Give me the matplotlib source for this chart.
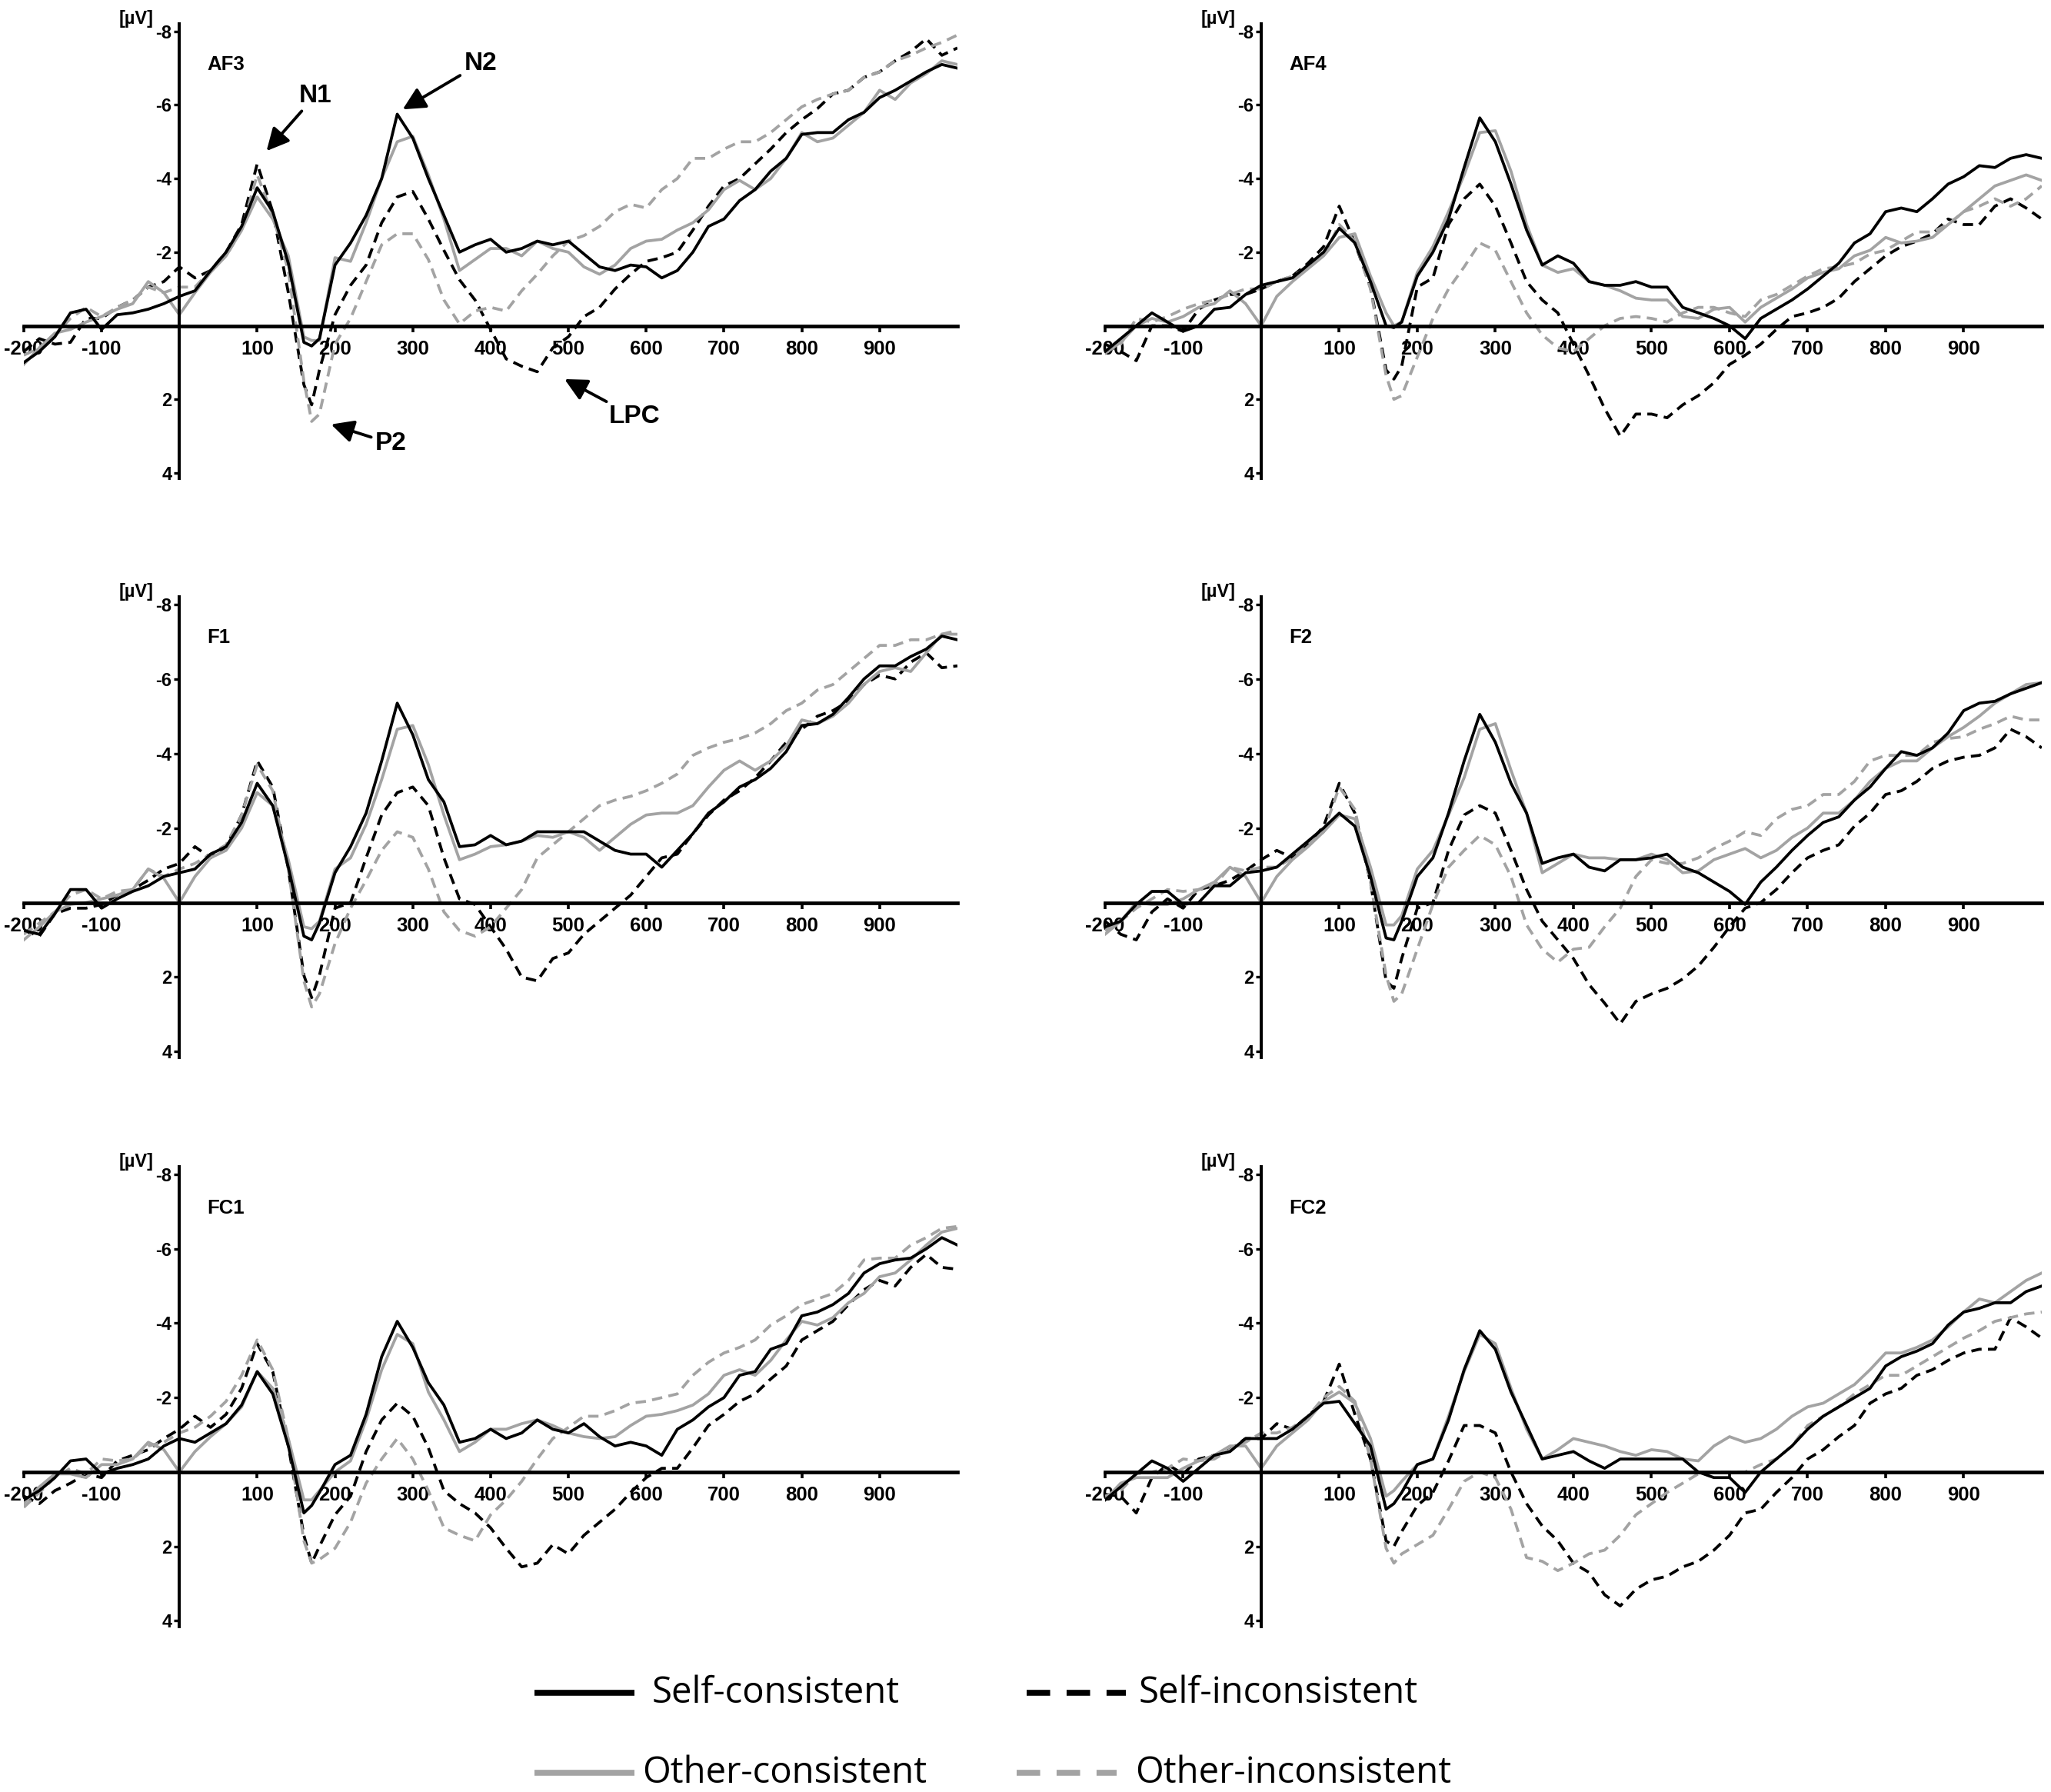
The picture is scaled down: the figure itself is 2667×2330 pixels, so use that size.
import matplotlib.pyplot as plt
from matplotlib.lines import Line2D

plt.rcParams['font.family'] = ['Liberation Sans', 'DejaVu Sans']

# sampling times (ms), values in microvolts
times = list(range(-200, 170, 20)) + [170] + list(range(180, 1001, 20))

channels = ['AF3', 'AF4', 'F1', 'F2', 'FC1', 'FC2']
conditions = ['Self-consistent', 'Self-inconsistent', 'Other-consistent', 'Other-inconsistent']
xtick_vals = [-200, -100, 100, 200, 300, 400, 500, 600, 700, 800, 900]
ytick_vals = [-8, -6, -4, -2, 2, 4]

# ---- AF3
af3_sc = [1.0, 0.7, 0.3, -0.35, -0.45, 0.1, -0.3, -0.35, -0.45, -0.6,
          -0.8, -0.95, -1.5, -2.0, -2.7, -3.75, -3.1, -1.7,
          0.45, 0.55, 0.35,
          -1.65, -2.25, -3.0, -4.0, -5.75, -5.1, -4.0, -3.0, -2.0, -2.2,
          -2.35, -2.0, -2.1, -2.3, -2.2, -2.3, -1.95, -1.6, -1.5, -1.65,
          -1.6, -1.3, -1.5, -2.0, -2.7, -2.9, -3.4, -3.7, -4.2, -4.55,
          -5.2, -5.25, -5.25, -5.6, -5.8, -6.2, -6.4, -6.65, -6.9, -7.1,
          -7.0]
af3_si = [0.7, 0.35, 0.5, 0.45, -0.2, -0.2, -0.5, -0.7, -1.05, -1.2,
          -1.6, -1.3, -1.5, -2.0, -2.75, -4.4, -3.1, -0.9,
          1.6, 2.15, 1.2,
          -0.3, -1.1, -1.65, -2.8, -3.5, -3.65, -2.9, -2.05, -1.25, -0.7,
          0.1, 0.9, 1.1, 1.25, 0.6, 0.3, -0.25, -0.5, -1.0, -1.4,
          -1.75, -1.85, -2.0, -2.6, -3.25, -3.8, -4.0, -4.4, -4.8, -5.25,
          -5.6, -5.9, -6.3, -6.4, -6.75, -6.9, -7.2, -7.45, -7.8, -7.35,
          -7.55]
af3_oc = [1.05, 0.6, 0.2, 0.1, -0.1, -0.25, -0.45, -0.6, -1.2, -0.9,
          -0.3, -0.9, -1.45, -1.9, -2.6, -3.5, -2.9, -1.9,
          0.3, 0.4, 0.4,
          -1.85, -1.75, -2.8, -4.0, -5.0, -5.15, -4.1, -2.9, -1.5, -1.8,
          -2.1, -2.1, -1.9, -2.3, -2.1, -2.0, -1.6, -1.4, -1.65, -2.1,
          -2.3, -2.35, -2.6, -2.8, -3.15, -3.7, -3.95, -3.7, -4.0, -4.55,
          -5.25, -5.0, -5.1, -5.45, -5.8, -6.4, -6.15, -6.6, -6.85, -7.2,
          -7.1]
af3_oi = [0.8, 0.6, 0.25, -0.2, -0.5, -0.25, -0.5, -0.7, -1.05, -0.9,
          -1.05, -1.05, -1.5, -1.9, -2.6, -4.1, -3.0, -1.5,
          1.5, 2.6, 2.4,
          0.5, -0.2, -1.2, -2.2, -2.5, -2.5, -1.8, -0.7, -0.05, -0.4,
          -0.5, -0.4, -0.95, -1.4, -1.9, -2.3, -2.45, -2.7, -3.1, -3.3,
          -3.2, -3.7, -4.0, -4.55, -4.55, -4.8, -5.0, -5.0, -5.25, -5.6,
          -5.95, -6.15, -6.3, -6.4, -6.75, -6.9, -7.2, -7.35, -7.55, -7.7,
          -7.9]

# ---- AF4
af4_sc = [0.7, 0.35, 0.0, -0.35, -0.1, 0.15, 0.0, -0.45, -0.5, -0.85,
          -1.1, -1.2, -1.3, -1.65, -2.0, -2.65, -2.25, -1.2,
          0.0, 0.05, -0.1,
          -1.35, -2.0, -2.9, -4.3, -5.65, -5.0, -3.85, -2.6, -1.65, -1.9,
          -1.7, -1.2, -1.1, -1.1, -1.2, -1.05, -1.05, -0.5, -0.35, -0.2,
          0.0, 0.35, -0.2, -0.45, -0.7, -1.0, -1.35, -1.7, -2.25, -2.5,
          -3.1, -3.2, -3.1, -3.45, -3.85, -4.05, -4.35, -4.3, -4.55, -4.65,
          -4.55]
af4_si = [0.5, 0.7, 0.95, 0.0, 0.0, 0.15, -0.45, -0.7, -0.85, -0.85,
          -1.0, -1.2, -1.35, -1.7, -2.15, -3.25, -2.25, -1.05,
          1.2, 1.45, 1.1,
          -1.05, -1.3, -2.75, -3.45, -3.85, -3.25, -2.25, -1.2, -0.7, -0.35,
          0.5, 1.35, 2.25, 3.0, 2.4, 2.4, 2.5, 2.15, 1.9, 1.55,
          1.05, 0.8, 0.5, 0.1, -0.25, -0.35, -0.5, -0.75, -1.2, -1.55,
          -1.9, -2.15, -2.3, -2.5, -2.9, -2.75, -2.75, -3.25, -3.45, -3.2,
          -2.9]
af4_oc = [0.75, 0.45, 0.0, -0.2, -0.1, -0.25, -0.5, -0.6, -0.95, -0.6,
          0.0, -0.8, -1.2, -1.55, -1.9, -2.4, -2.5, -1.35,
          -0.35, 0.0, -0.1,
          -1.45, -2.15, -3.1, -4.1, -5.25, -5.3, -4.2, -2.75, -1.65, -1.45,
          -1.55, -1.2, -1.1, -0.95, -0.75, -0.7, -0.7, -0.25, -0.2, -0.45,
          -0.5, -0.1, -0.5, -0.75, -1.0, -1.3, -1.45, -1.55, -1.9, -2.05,
          -2.4, -2.25, -2.3, -2.4, -2.75, -3.1, -3.45, -3.8, -3.95, -4.1,
          -3.95]
af4_oi = [0.7, 0.5, -0.2, -0.1, -0.25, -0.45, -0.6, -0.7, -0.85, -1.0,
          -1.0, -1.2, -1.35, -1.6, -1.9, -2.75, -2.3, -1.0,
          1.35, 2.0, 1.9,
          0.85, -0.2, -1.0, -1.6, -2.25, -2.05, -1.2, -0.35, 0.25, 0.6,
          0.7, 0.35, 0.0, -0.2, -0.25, -0.2, -0.1, -0.35, -0.5, -0.5,
          -0.35, -0.25, -0.7, -0.85, -1.1, -1.35, -1.55, -1.6, -1.7, -1.95,
          -2.05, -2.3, -2.55, -2.55, -2.75, -3.1, -3.25, -3.45, -3.25, -3.45,
          -3.8]

# ---- F1
f1_sc = [0.75, 0.85, 0.3, -0.35, -0.35, 0.15, -0.1, -0.3, -0.45, -0.7,
         -0.8, -0.9, -1.3, -1.5, -2.15, -3.2, -2.6, -0.95,
         0.9, 1.0, 0.55,
         -0.8, -1.5, -2.4, -3.8, -5.35, -4.5, -3.3, -2.7, -1.5, -1.55,
         -1.8, -1.55, -1.65, -1.9, -1.9, -1.9, -1.9, -1.65, -1.4, -1.3,
         -1.3, -0.95, -1.4, -1.85, -2.4, -2.7, -3.1, -3.3, -3.6, -4.05,
         -4.75, -4.8, -5.05, -5.5, -6.0, -6.35, -6.35, -6.6, -6.8, -7.15,
         -7.05]
f1_si = [0.75, 0.9, 0.3, 0.15, 0.15, 0.05, -0.2, -0.35, -0.6, -0.9,
         -1.05, -1.5, -1.2, -1.5, -2.35, -3.8, -3.1, -0.9,
         1.95, 2.55, 1.95,
         0.15, 0.0, -1.2, -2.35, -2.95, -3.1, -2.6, -1.2, -0.1, 0.05,
         0.65, 1.25, 2.0, 2.1, 1.5, 1.35, 0.85, 0.5, 0.15, -0.2,
         -0.7, -1.2, -1.3, -1.85, -2.35, -2.75, -3.0, -3.35, -3.8, -4.3,
         -4.65, -5.0, -5.15, -5.4, -5.85, -6.1, -6.0, -6.45, -6.7, -6.3,
         -6.35]
f1_oc = [1.0, 0.65, 0.25, 0.05, 0.0, -0.1, -0.2, -0.35, -0.9, -0.65,
         0.0, -0.7, -1.2, -1.4, -2.0, -2.95, -2.6, -1.15,
         0.65, 0.7, 0.5,
         -0.9, -1.2, -2.1, -3.3, -4.65, -4.75, -3.7, -2.35, -1.15, -1.3,
         -1.5, -1.55, -1.65, -1.8, -1.75, -1.9, -1.75, -1.4, -1.75, -2.1,
         -2.35, -2.4, -2.4, -2.6, -3.1, -3.55, -3.8, -3.55, -3.8, -4.2,
         -4.9, -4.8, -5.0, -5.35, -5.85, -6.2, -6.3, -6.2, -6.7, -7.2,
         -7.2]
f1_oi = [0.85, 0.55, 0.25, -0.2, -0.35, -0.1, -0.3, -0.35, -0.9, -0.7,
         -0.9, -1.05, -1.3, -1.55, -2.35, -3.7, -3.0, -0.9,
         2.1, 2.8, 2.45,
         1.1, 0.15, -0.6, -1.4, -1.9, -1.75, -0.9, 0.25, 0.75, 0.9,
         0.65, 0.15, -0.35, -1.2, -1.55, -1.9, -2.25, -2.6, -2.75, -2.85,
         -3.0, -3.2, -3.45, -3.95, -4.15, -4.3, -4.4, -4.55, -4.8, -5.15,
         -5.35, -5.7, -5.85, -6.2, -6.55, -6.9, -6.9, -7.05, -7.05, -7.2,
         -7.3]

# ---- F2
f2_sc = [0.65, 0.5, 0.05, -0.3, -0.3, 0.05, 0.0, -0.45, -0.45, -0.8,
         -0.85, -0.95, -1.3, -1.65, -2.0, -2.4, -2.05, -0.7,
         0.95, 1.0, 0.5,
         -0.7, -1.2, -2.4, -3.8, -5.05, -4.3, -3.2, -2.4, -1.05, -1.2,
         -1.3, -0.95, -0.85, -1.15, -1.15, -1.2, -1.3, -0.95, -0.8, -0.55,
         -0.3, 0.05, -0.55, -0.95, -1.4, -1.8, -2.15, -2.3, -2.75, -3.1,
         -3.6, -4.05, -3.95, -4.15, -4.55, -5.15, -5.35, -5.4, -5.6, -5.75,
         -5.9]
f2_si = [0.5, 0.85, 1.0, 0.25, -0.1, 0.15, -0.35, -0.45, -0.6, -0.85,
         -1.15, -1.4, -1.2, -1.55, -2.05, -3.2, -2.4, -0.55,
         2.1, 2.3, 1.5,
         0.15, 0.0, -1.4, -2.35, -2.6, -2.4, -1.4, -0.35, 0.5, 1.0,
         1.5, 2.2, 2.7, 3.25, 2.65, 2.45, 2.3, 2.05, 1.7, 1.2,
         0.65, 0.15, 0.0, -0.35, -0.8, -1.2, -1.4, -1.55, -2.05, -2.4,
         -2.9, -3.0, -3.25, -3.6, -3.8, -3.9, -3.95, -4.15, -4.65, -4.45,
         -4.15]
f2_oc = [0.85, 0.5, 0.0, 0.05, 0.05, -0.1, -0.35, -0.55, -0.95, -0.7,
         0.0, -0.7, -1.15, -1.5, -1.9, -2.35, -2.25, -0.95,
         0.6, 0.6, 0.35,
         -0.9, -1.4, -2.35, -3.35, -4.65, -4.8, -3.55, -2.4, -0.8, -1.05,
         -1.3, -1.2, -1.2, -1.15, -1.15, -1.3, -1.15, -0.8, -0.85, -1.15,
         -1.3, -1.45, -1.2, -1.4, -1.75, -2.0, -2.4, -2.4, -2.75, -3.25,
         -3.6, -3.8, -3.8, -4.15, -4.45, -4.7, -5.0, -5.35, -5.6, -5.85,
         -5.9]
f2_oi = [0.75, 0.5, 0.15, -0.1, -0.35, -0.3, -0.35, -0.45, -0.95, -0.85,
         -0.95, -0.95, -1.2, -1.55, -1.9, -3.1, -2.5, -0.55,
         1.95, 2.65, 2.45,
         1.25, 0.05, -0.95, -1.4, -1.8, -1.55, -0.7, 0.6, 1.25, 1.6,
         1.25, 1.2, 0.65, 0.15, -0.7, -1.15, -1.05, -1.05, -1.2, -1.45,
         -1.65, -1.9, -1.8, -2.25, -2.5, -2.6, -2.9, -2.9, -3.25, -3.8,
         -3.95, -3.95, -3.95, -4.3, -4.4, -4.45, -4.65, -4.8, -5.0, -4.9,
         -4.9]

# ---- FC1
fc1_sc = [0.75, 0.5, 0.15, -0.3, -0.35, 0.05, -0.1, -0.2, -0.35, -0.7,
          -0.9, -0.8, -1.05, -1.3, -1.8, -2.7, -2.1, -0.7,
          1.1, 0.9, 0.55,
          -0.2, -0.45, -1.55, -3.1, -4.05, -3.35, -2.4, -1.8, -0.8, -0.9,
          -1.15, -0.9, -1.05, -1.4, -1.15, -1.05, -1.3, -0.95, -0.7, -0.8,
          -0.7, -0.45, -1.15, -1.4, -1.75, -2.0, -2.6, -2.7, -3.3, -3.45,
          -4.2, -4.3, -4.5, -4.8, -5.35, -5.6, -5.7, -5.75, -6.0, -6.3,
          -6.1]
fc1_si = [0.65, 0.85, 0.5, 0.3, 0.05, 0.15, -0.3, -0.45, -0.6, -0.9,
          -1.15, -1.5, -1.2, -1.55, -2.25, -3.45, -2.7, -0.7,
          1.7, 2.45, 2.0,
          1.15, 0.65, -0.55, -1.4, -1.85, -1.5, -0.65, 0.5, 0.85, 1.1,
          1.5, 2.05, 2.55, 2.45, 1.95, 2.2, 1.7, 1.35, 1.0, 0.55,
          0.15, -0.1, -0.1, -0.65, -1.25, -1.55, -1.9, -2.1, -2.5, -2.85,
          -3.55, -3.8, -4.05, -4.5, -4.9, -5.15, -5.0, -5.5, -5.85, -5.5,
          -5.45]
fc1_oc = [0.85, 0.4, 0.05, 0.05, 0.15, -0.2, -0.2, -0.35, -0.8, -0.6,
          0.0, -0.55, -0.95, -1.3, -1.75, -2.7, -2.25, -0.9,
          0.75, 0.75, 0.5,
          0.0, -0.3, -1.4, -2.75, -3.7, -3.45, -2.15, -1.4, -0.55, -0.8,
          -1.15, -1.15, -1.3, -1.4, -1.25, -1.05, -0.95, -0.9, -0.95, -1.25,
          -1.5, -1.55, -1.65, -1.8, -2.1, -2.6, -2.75, -2.6, -3.0, -3.55,
          -4.05, -3.95, -4.15, -4.55, -4.8, -5.25, -5.35, -5.7, -6.1, -6.45,
          -6.55]
fc1_oi = [0.95, 0.55, 0.15, -0.1, 0.05, -0.35, -0.3, -0.35, -0.7, -0.8,
          -1.05, -1.2, -1.5, -1.9, -2.6, -3.55, -2.75, -0.9,
          1.85, 2.45, 2.35,
          2.05, 1.35, 0.3, -0.35, -0.9, -0.35, 0.5, 1.5, 1.7, 1.85,
          1.15, 0.75, 0.25, -0.35, -0.9, -1.2, -1.5, -1.5, -1.65, -1.85,
          -1.9, -2.0, -2.1, -2.6, -2.95, -3.2, -3.35, -3.55, -3.95, -4.2,
          -4.5, -4.65, -4.8, -5.15, -5.7, -5.75, -5.75, -6.1, -6.3, -6.55,
          -6.6]

# ---- FC2
fc2_sc = [0.75, 0.4, 0.05, -0.3, -0.1, 0.25, -0.1, -0.45, -0.55, -0.9,
          -0.9, -0.9, -1.15, -1.5, -1.85, -1.9, -1.3, -0.7,
          1.0, 0.85, 0.55,
          -0.2, -0.35, -1.4, -2.75, -3.8, -3.3, -2.15, -1.25, -0.35, -0.45,
          -0.55, -0.3, -0.1, -0.35, -0.35, -0.35, -0.35, -0.35, 0.0, 0.15,
          0.15, 0.55, 0.0, -0.35, -0.7, -1.15, -1.5, -1.75, -2.0, -2.25,
          -2.85, -3.1, -3.25, -3.45, -3.95, -4.3, -4.4, -4.55, -4.55, -4.85,
          -5.0]
fc2_si = [0.6, 0.65, 1.1, 0.15, -0.2, 0.05, -0.35, -0.45, -0.6, -0.9,
          -0.9, -1.3, -1.15, -1.5, -1.9, -2.9, -1.55, -0.35,
          1.85, 2.0, 1.6,
          0.9, 0.55, -0.3, -1.25, -1.25, -1.05, 0.0, 0.85, 1.45, 1.85,
          2.45, 2.7, 3.3, 3.6, 3.15, 2.9, 2.8, 2.55, 2.4, 2.1,
          1.7, 1.1, 1.0, 0.55, 0.15, -0.35, -0.6, -0.95, -1.25, -1.85,
          -2.1, -2.25, -2.6, -2.75, -3.0, -3.2, -3.3, -3.3, -4.15, -3.9,
          -3.6]
fc2_oc = [0.75, 0.3, 0.15, 0.15, 0.15, -0.1, -0.3, -0.45, -0.7, -0.7,
          -0.1, -0.7, -1.05, -1.4, -1.9, -2.15, -1.85, -0.9,
          0.65, 0.5, 0.25,
          -0.2, -0.35, -1.5, -2.7, -3.7, -3.45, -2.25, -1.15, -0.35, -0.6,
          -0.9, -0.8, -0.7, -0.55, -0.45, -0.6, -0.55, -0.35, -0.3, -0.7,
          -0.95, -0.8, -0.9, -1.15, -1.5, -1.75, -1.85, -2.1, -2.35, -2.75,
          -3.2, -3.2, -3.35, -3.55, -3.9, -4.3, -4.65, -4.55, -4.85, -5.15,
          -5.35]
fc2_oi = [0.65, 0.5, 0.05, 0.0, -0.1, -0.35, -0.3, -0.35, -0.6, -0.8,
          -1.05, -1.05, -1.2, -1.5, -2.0, -2.3, -1.9, -0.35,
          2.05, 2.45, 2.2,
          1.95, 1.7, 1.0, 0.25, 0.0, 0.15, 1.0, 2.3, 2.4, 2.65,
          2.45, 2.2, 2.1, 1.7, 1.15, 0.85, 0.55, 0.3, 0.05, 0.0,
          0.0, 0.0, -0.2, -0.35, -0.7, -1.25, -1.5, -1.75, -2.1, -2.35,
          -2.6, -2.6, -2.85, -3.1, -3.35, -3.6, -3.8, -4.05, -4.15, -4.25,
          -4.3]

data = {
    'AF3': [af3_sc, af3_si, af3_oc, af3_oi],
    'AF4': [af4_sc, af4_si, af4_oc, af4_oi],
    'F1': [f1_sc, f1_si, f1_oc, f1_oi],
    'F2': [f2_sc, f2_si, f2_oc, f2_oi],
    'FC1': [fc1_sc, fc1_si, fc1_oc, fc1_oi],
    'FC2': [fc2_sc, fc2_si, fc2_oc, fc2_oi],
}

gray = '#a3a3a3'
colors = ['black', 'black', gray, gray]
dashed = [False, True, False, True]

# axes rectangles in figure fractions
rects = {
    'AF3': [0.0116, 0.7330, 0.4552, 0.2536],
    'AF4': [0.5388, 0.7330, 0.4567, 0.2536],
    'F1': [0.0116, 0.4100, 0.4552, 0.2569],
    'F2': [0.5388, 0.4100, 0.4567, 0.2569],
    'FC1': [0.0116, 0.0924, 0.4552, 0.2564],
    'FC2': [0.5388, 0.0924, 0.4567, 0.2564],
}

fig = plt.figure(figsize=(26.67, 23.30), dpi=100)

for ch in channels:
    ax = fig.add_axes(rects[ch])
    for k in [1, 3, 2, 0]:
        line, = ax.plot(times, data[ch][k], color=colors[k], lw=2.7)
        if dashed[k]:
            line.set_dashes((3.6, 2.2))
    ax.set_xlim(-200, 1000)
    ax.set_ylim(4.15, -8.2)
    ax.spines['left'].set_position(('data', 0))
    ax.spines['bottom'].set_position(('data', 0))
    ax.spines['top'].set_visible(False)
    ax.spines['right'].set_visible(False)
    ax.spines['left'].set_linewidth(2.9)
    ax.spines['bottom'].set_linewidth(3.4)
    ax.set_xticks(xtick_vals)
    ax.set_xticklabels([str(v) for v in xtick_vals], fontsize=18.5, fontweight='bold')
    ax.set_yticks(ytick_vals)
    ax.set_yticklabels([str(v) for v in ytick_vals], fontsize=17, fontweight='bold')
    ax.tick_params(axis='x', length=6, width=2.6, pad=7)
    ax.tick_params(axis='y', length=5, width=2.4, pad=2)
    ax.patch.set_visible(False)
    ax.text(36, -7.1, ch, fontsize=18.5, fontweight='bold', ha='left', va='center')
    ax.annotate('[µV]', xy=(0, -8), xytext=(-24, 11.5), textcoords='offset points',
                ha='right', va='center', fontsize=17, fontweight='bold')

    if ch == 'AF3':
        arrow = dict(arrowstyle='-|>', lw=2.8, color='black', mutation_scale=44,
                     shrinkA=2, shrinkB=0)
        for lab, tip, pos in [('N1', (112, -4.75), (175, -6.26)),
                              ('N2', (287, -5.88), (387, -7.13)),
                              ('P2', (195, 2.68), (272, 3.2)),
                              ('LPC', (495, 1.45), (585, 2.47))]:
            ax.annotate(lab, xy=tip, xytext=pos, ha='center', va='center',
                        fontsize=24, fontweight='bold', arrowprops=arrow)

# legend drawn in figure coordinates
W, H = 2667.0, 2330.0
legend_rows = [
    ('Self-consistent', 'black', False, (695, 825), 848, 2201),
    ('Self-inconsistent', 'black', True, (1335, 1464), 1481, 2201),
    ('Other-consistent', gray, False, (695, 825), 835, 2305),
    ('Other-inconsistent', gray, True, (1322, 1452), 1476, 2305),
]
for label, col, dsh, (x0, x1), tx, y in legend_rows:
    ln = Line2D([x0 / W, x1 / W], [1 - y / H, 1 - y / H], transform=fig.transFigure,
                color=col, lw=5.5, solid_capstyle='butt', dash_capstyle='butt')
    if dsh:
        ln.set_dashes((4.0, 2.8))
    fig.add_artist(ln)
    fig.text(tx / W, 1 - y / H, label, fontsize=34, family=['Open Sans', 'DejaVu Sans'],
             ha='left', va='center')

fig.savefig('out.png', dpi=100)
